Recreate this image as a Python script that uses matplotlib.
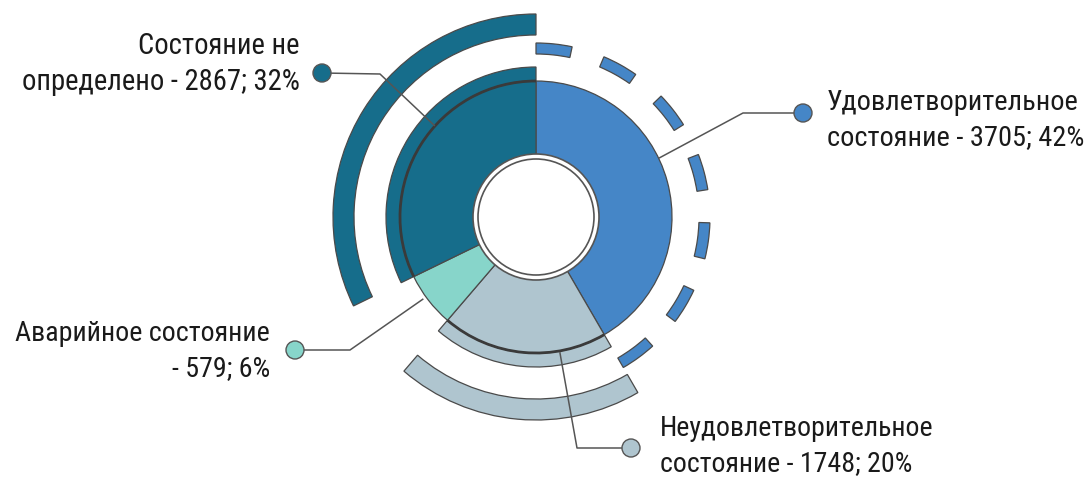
import numpy as np
import matplotlib
matplotlib.use('Agg')
import matplotlib.pyplot as plt
from matplotlib import font_manager as fm
from matplotlib.patches import Wedge, Circle, Arc

labels = ['Удовлетворительное\nсостояние - 3705; 42%',
          'Неудовлетворительное\nсостояние - 1748; 20%',
          'Аварийное состояние\n- 579; 6%',
          'Состояние не\nопределено - 2867; 32%']
values = [3705, 1748, 579, 2867]
colors = ['#4586c7', '#afc5cf', '#87d5ca', '#166d8b']

# look for a narrow font, the original uses a tall condensed face
prefs = ['Roboto Condensed', 'Liberation Sans Narrow', 'Open Sans Condensed',
         'Noto Sans Condensed', 'DejaVu Sans Condensed', 'Noto Sans']
found = {}
for f in fm.fontManager.ttflist:
    if f.style == 'normal' and f.weight in (400, 'normal', 'regular'):
        found.setdefault(f.name, set()).add(f.stretch)
family, stretch = 'DejaVu Sans', 'normal'
for p in prefs:
    if p in found:
        cond = [s for s in found[p] if 'condensed' in str(s)]
        if p == 'Noto Sans' and not cond:
            continue
        family = p
        stretch = cond[0] if cond else 'normal'
        break
plt.rcParams['font.family'] = [family, 'DejaVu Sans']

W, H = 1091, 482
fig = plt.figure(figsize=(W / 100, H / 100), dpi=100)
ax = fig.add_axes([0, 0, 1, 1])

cx, cy = 536, H - 217
edge = '#4a4a4a'

fracs = np.array(values) / sum(values)
ends = 90 - 360 * np.cumsum(fracs)
starts = np.concatenate([[90], ends[:-1]])

# outer bands for 'не определено' and 'неудовлетворительное'
for i, r, w in [(3, 203, 21), (1, 203, 21), (3, 150, 14), (1, 150, 14)]:
    cols = ['none'] * 4
    cols[i] = colors[i]
    wedges, _ = ax.pie(values, colors=cols, radius=r, center=(cx, cy),
                       startangle=90, counterclock=False,
                       wedgeprops=dict(width=w, linewidth=0))
    wedges[i].set_edgecolor(edge)
    wedges[i].set_linewidth(0.9)

# main ring
wedges, _ = ax.pie(values, colors=colors, radius=136, center=(cx, cy),
                   startangle=90, counterclock=False,
                   wedgeprops=dict(width=76, edgecolor=edge, linewidth=0.9))
# darker rim where the main ring meets the extension bands
for i in (1, 3):
    ax.add_patch(Arc((cx, cy), 272, 272, theta1=ends[i], theta2=starts[i],
                     color='#3a3a3a', linewidth=2.0, zorder=3))

# dashed arc for 'удовлетворительное'
n_dash = 7
span = starts[0] - ends[0]
dash = span * 12 / 150
gap = (span - n_dash * dash) / (n_dash - 1)
for k in range(n_dash):
    a1 = starts[0] - k * (dash + gap)
    ax.add_patch(Wedge((cx, cy), 174, a1 - dash, a1, width=11,
                       facecolor=colors[0], edgecolor=edge, linewidth=0.9))

# hole
ax.add_patch(Circle((cx, cy), 63, facecolor='white', edgecolor='#555555', linewidth=1.2, zorder=5))
ax.add_patch(Circle((cx, cy), 58, facecolor='white', edgecolor='#555555', linewidth=1.2, zorder=5))

# leader lines: anchor angle on ring, elbow, marker
leaders = [
    (25.6, 137, (743, 113), (803, 113)),
    (-80, 138, (577, 448), (631, 448)),
    (-144, 140, (350, 350), (295, 350)),
    (138, 137, (380, 74), (322, 73)),
]
for (ang, r, elbow, mk), c in zip(leaders, colors):
    ax0 = cx + r * np.cos(np.radians(ang))
    ay0 = cy + r * np.sin(np.radians(ang))
    ax.plot([ax0, elbow[0], mk[0]], [ay0, H - elbow[1], H - mk[1]],
            color='#555555', linewidth=1.1, zorder=6)
    ax.add_patch(Circle((mk[0], H - mk[1]), 9, facecolor=c, edgecolor='#555555',
                        linewidth=1.0, zorder=7))

# labels, font size fitted to the width of each block
text_pos = [(827, 120, 'left', 258), (660, 446, 'left', 275),
            (270, 351, 'right', 256), (300, 64, 'right', 278)]
fig.canvas.draw()
rend = fig.canvas.get_renderer()
for lab, (x, y, ha, tw) in zip(labels, text_pos):
    t = ax.text(x, H - y, lab, ha=ha, va='center', multialignment=ha,
                fontsize=24, color='#1a1a1a', linespacing=1.35,
                fontstretch=stretch)
    w0 = t.get_window_extent(rend).width
    t.set_fontsize(min(28, 24 * tw / w0))

ax.set_xlim(0, W)
ax.set_ylim(0, H)
ax.set_aspect('equal')
ax.axis('off')

fig.savefig('out.png', dpi=100, facecolor='white')
